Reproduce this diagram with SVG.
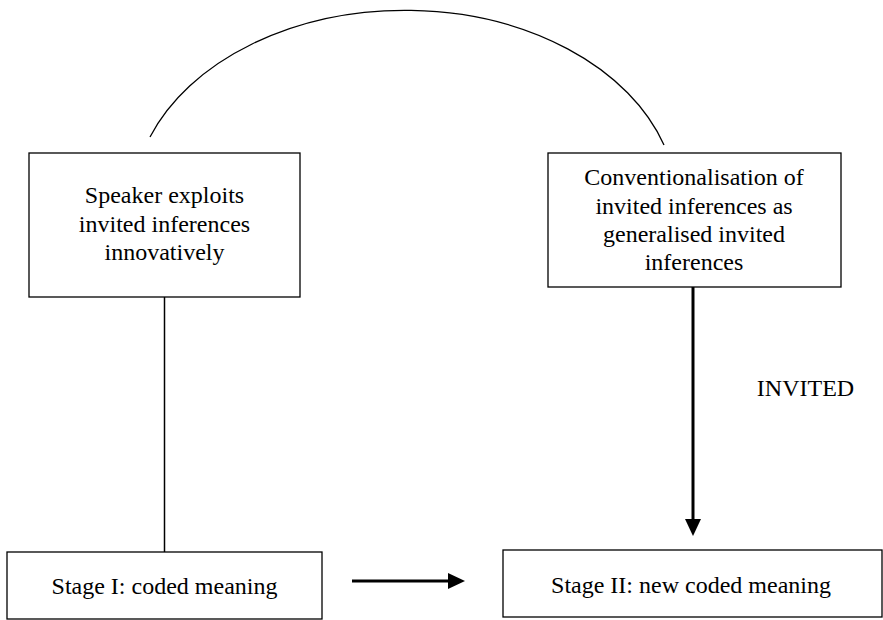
<svg xmlns="http://www.w3.org/2000/svg" width="883" height="620" viewBox="0 0 883 620">
<style>
.box{fill:#fff;stroke:#000;stroke-width:1.3}
.t{font-family:"Liberation Serif","Times New Roman",serif;font-size:24px;fill:#000;text-anchor:middle}
.ln{stroke:#000;fill:none}
</style>
<defs>
<marker id="ah" viewBox="0 0 17 16" refX="0" refY="8" markerWidth="17" markerHeight="16" orient="auto" markerUnits="userSpaceOnUse">
<path d="M0,0 L17,8 L0,16 z" fill="#000"/>
</marker>
</defs>
<rect width="883" height="620" fill="#fff"/>
<g id="connectors">
<path class="ln" stroke-width="1.3" d="M150,137 A272,194 0 0 1 664,145"/>
<line class="ln" stroke-width="1.5" x1="164.5" y1="297" x2="164.5" y2="552"/>
<line class="ln" stroke-width="3" x1="693" y1="287" x2="693" y2="519" marker-end="url(#ah)"/>
<line class="ln" stroke-width="3" x1="352" y1="581" x2="448" y2="581" marker-end="url(#ah)"/>
<text class="t" x="805.5" y="396">INVITED</text>
</g>
<g id="speaker">
<rect class="box" x="29" y="153" width="271" height="144"/>
<text class="t" x="164.5" y="203">Speaker exploits</text>
<text class="t" x="164.5" y="231.5">invited inferences</text>
<text class="t" x="164.5" y="260">innovatively</text>
</g>
<g id="conventionalisation">
<rect class="box" x="548" y="153" width="293" height="134"/>
<text class="t" x="694" y="185">Conventionalisation of</text>
<text class="t" x="694" y="213.5">invited inferences as</text>
<text class="t" x="694" y="242">generalised invited</text>
<text class="t" x="694" y="270">inferences</text>
</g>
<g id="stage1">
<rect class="box" x="7" y="552" width="315" height="67"/>
<text class="t" x="164.5" y="594">Stage I: coded meaning</text>
</g>
<g id="stage2">
<rect class="box" x="503" y="550" width="379" height="67"/>
<text class="t" x="691" y="593">Stage II: new coded meaning</text>
</g>
</svg>
